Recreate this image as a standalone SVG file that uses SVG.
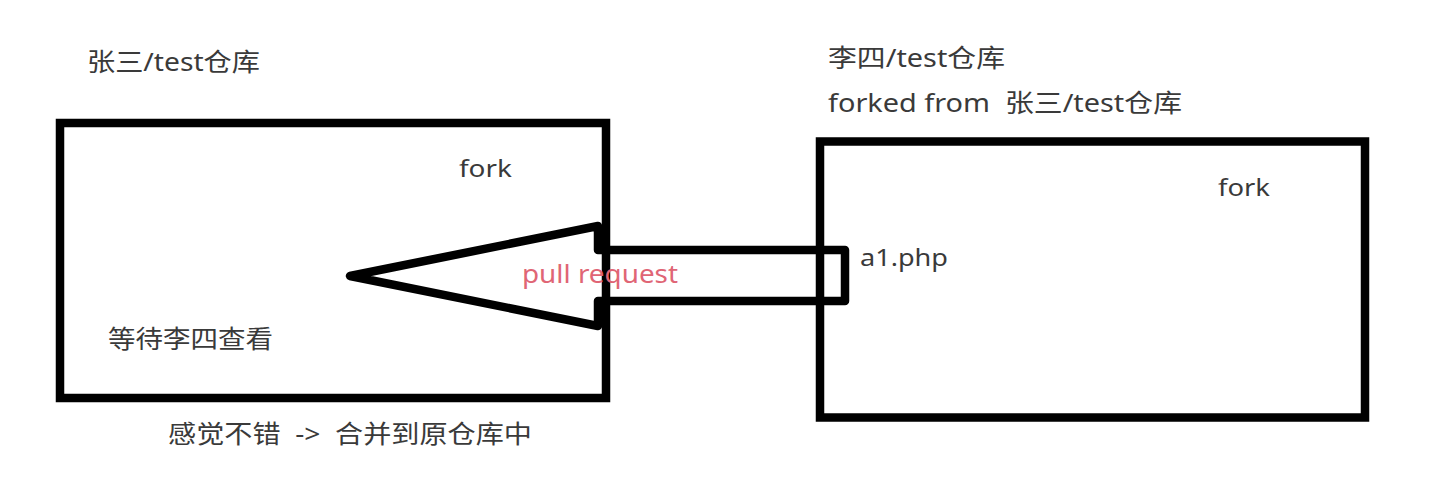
<svg xmlns="http://www.w3.org/2000/svg" width="1432" height="480" viewBox="0 0 1432 480">
  <style>
    .box { fill: none; stroke: #000; stroke-width: 8.5; }
    .arrow { fill: none; stroke: #000; stroke-width: 8.5; stroke-linejoin: round; }
    .t { font-family: "Noto Sans", "Noto Sans CJK SC", sans-serif; fill: #3a3a3a; font-size: 25px; white-space: pre; }
    .lat { font-size: 24px; }
    .pr { font-family: "Noto Sans", "Noto Sans CJK SC", sans-serif; fill: #e06575; font-size: 26px; }
  </style>
  <rect width="1432" height="480" fill="#ffffff"/>

  <g id="repo-zhangsan">
    <rect class="box" x="60" y="123" width="546" height="275"/>
    <text class="t" x="87" y="71" textLength="173" lengthAdjust="spacingAndGlyphs">张三/test仓库</text>
    <text class="t lat" x="459" y="177" textLength="53" lengthAdjust="spacingAndGlyphs">fork</text>
    <text class="t" x="108" y="348" textLength="165" lengthAdjust="spacingAndGlyphs">等待李四查看</text>
    <text class="t" x="168" y="443" textLength="364" lengthAdjust="spacingAndGlyphs">感觉不错  -&gt;  合并到原仓库中</text>
  </g>

  <g id="repo-lisi">
    <rect class="box" x="820" y="141.5" width="545" height="276"/>
    <text class="t" x="828" y="67" textLength="177" lengthAdjust="spacingAndGlyphs">李四/test仓库</text>
    <text class="t" x="828" y="112" textLength="354" lengthAdjust="spacingAndGlyphs">forked from  张三/test仓库</text>
    <text class="t lat" x="1218" y="196" textLength="52" lengthAdjust="spacingAndGlyphs">fork</text>
    <text class="t lat" x="860" y="266" textLength="88" lengthAdjust="spacingAndGlyphs">a1.php</text>
  </g>

  <g id="connectors">
    <path class="arrow" d="M 598 226 L 350 276 L 598 326 L 598 301 L 845 301 L 845 250 L 598 250 Z"/>
    <text class="pr" x="522" y="283" textLength="156" lengthAdjust="spacingAndGlyphs">pull request</text>
  </g>
</svg>
